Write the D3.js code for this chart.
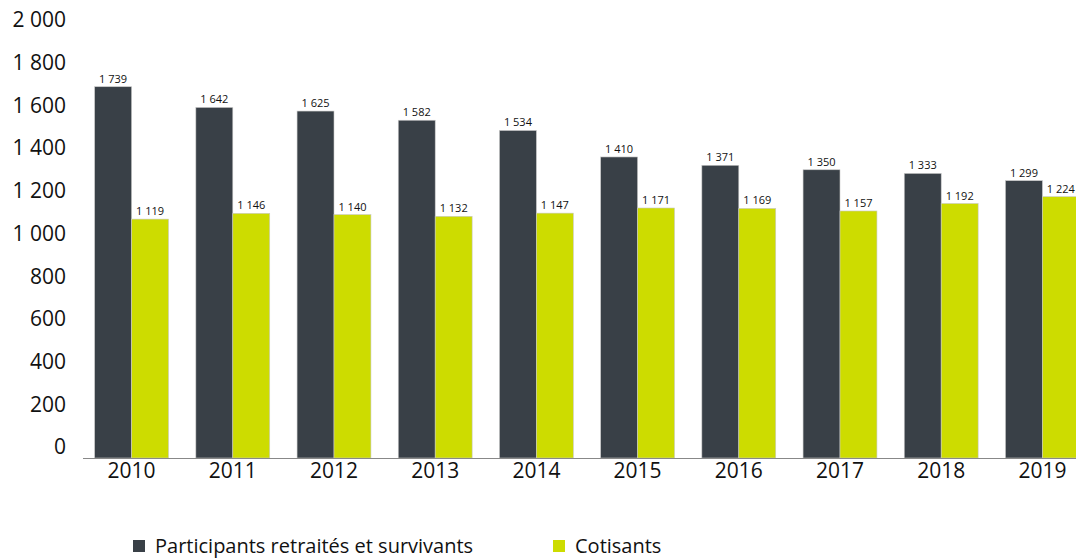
<!DOCTYPE html>
<html lang="fr">
<head>
<meta charset="utf-8">
<title>Participants et cotisants</title>
<script src="https://d3js.org/d3.v7.min.js"></script>
<style>
  body { margin: 0; background: #fff; }
  svg { display: block; font-family: "Open Sans", "Noto Sans", sans-serif; }
</style>
</head>
<body>
<script>
// data
var years = ["2010", "2011", "2012", "2013", "2014", "2015", "2016", "2017", "2018", "2019"];
var retraites = [1739, 1642, 1625, 1582, 1534, 1410, 1371, 1350, 1333, 1299];
var cotisants = [1119, 1146, 1140, 1132, 1147, 1171, 1169, 1157, 1192, 1224];
var yTicks = [0, 200, 400, 600, 800, 1000, 1200, 1400, 1600, 1800, 2000];
var seriesNames = ["Participants retraités et survivants", "Cotisants"];
var colors = ["#394047", "#cddc00"];

var W = 1076, H = 558;
var svg = d3.select("body").append("svg").attr("width", W).attr("height", H);

var fr = d3.formatLocale({decimal: ",", thousands: " ", grouping: [3], currency: ["", " €"]});
var fmt = fr.format(",d");

var x = d3.scaleBand().domain(years).range([81, 1093]).paddingInner(0.27).paddingOuter(0.135);
var x1 = d3.scaleBand().domain([0, 1]).range([0, x.bandwidth()]);
var y = d3.scaleLinear().domain([0, 2000]).range([458, 31]);

// y axis labels (no line), sit a bit above their value
svg.append("g").selectAll("text").data(yTicks).enter().append("text")
  .attr("x", 66).attr("y", function(d) { return y(d) - 11; })
  .attr("dy", "0.35em").attr("text-anchor", "end")
  .style("font-size", "21px").attr("fill", "#111")
  .text(function(d) { return fmt(d); });

var rows = years.map(function(yr, i) { return {year: yr, vals: [retraites[i], cotisants[i]]}; });

var g = svg.append("g").selectAll("g").data(rows).enter().append("g")
  .attr("transform", function(d) { return "translate(" + x(d.year) + ",0)"; });

g.selectAll("rect").data(function(d) { return d.vals; }).enter().append("rect")
  .attr("x", function(d, i) { return x1(i); })
  .attr("y", function(d) { return y(d); })
  .attr("width", x1.bandwidth())
  .attr("height", function(d) { return y(0) - y(d); })
  .attr("fill", function(d, i) { return colors[i]; })
  .attr("stroke", "#c8c8c8").attr("stroke-width", 0.6);

g.selectAll("text").data(function(d) { return d.vals; }).enter().append("text")
  .attr("x", function(d, i) { return x1(i) + x1.bandwidth() / 2; })
  .attr("y", function(d) { return y(d) - 4; })
  .attr("text-anchor", "middle")
  .style("font-size", "11px").attr("fill", "#111")
  .text(function(d) { return fmt(d); });

// x axis
var xAxis = svg.append("g").attr("transform", "translate(0," + y(0) + ")")
  .call(d3.axisBottom(x).tickSize(0).tickPadding(5));
xAxis.select(".domain").attr("d", "M83,0.5H1076").attr("stroke", "#888");
xAxis.selectAll("text").style("font-size", "21px").attr("fill", "#111")
  .style("font-family", "'Open Sans', sans-serif");

// legend
var legX = [133, 553];
var leg = svg.append("g").selectAll("g").data(seriesNames).enter().append("g")
  .attr("transform", function(d, i) { return "translate(" + legX[i] + ",540)"; });
leg.append("rect").attr("width", 12).attr("height", 12)
  .attr("fill", function(d, i) { return colors[i]; });
leg.append("text").attr("x", 22).attr("y", 6).attr("dy", "0.35em")
  .style("font-size", "20px").attr("fill", "#111")
  .text(function(d) { return d; });
</script>
</body>
</html>
